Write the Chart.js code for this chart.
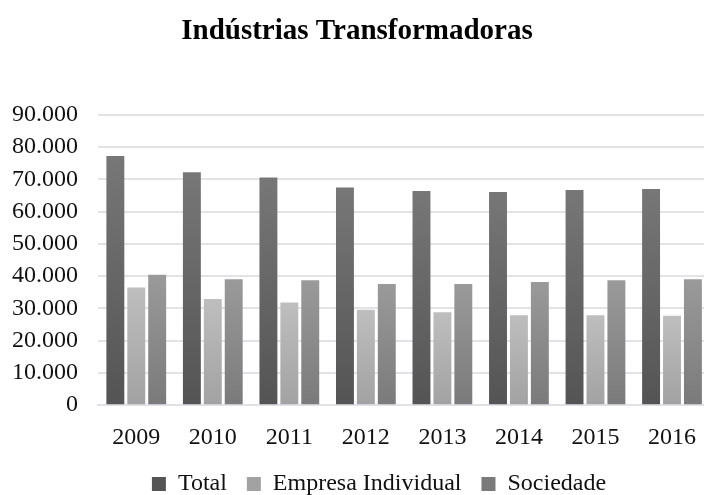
<!DOCTYPE html>
<html>
<head>
<meta charset="utf-8">
<script src="https://cdn.jsdelivr.net/npm/chart.js@4.4.1/dist/chart.umd.min.js"></script>
<style>
  html, body { margin: 0; padding: 0; background: #fff; overflow: hidden; }
  #wrap { width: 714px; height: 495px; }
</style>
</head>
<body>
<div id="wrap"><canvas id="industryChart"></canvas></div>
<script>
// data
const years = ['2009', '2010', '2011', '2012', '2013', '2014', '2015', '2016'];
const total = [77200, 72200, 70600, 67500, 66400, 66100, 66700, 67000];
const empresaIndividual = [36500, 32900, 31800, 29600, 28800, 27900, 27900, 27700];
const sociedade = [40400, 39000, 38700, 37600, 37600, 38200, 38700, 39000];

// per-bar vertical gradient (top -> bottom), flat mid colour for the legend
function barGradient(top, mid, bottom) {
  return function(context) {
    const chart = context.chart;
    const yScale = chart.scales.y;
    if (context.type !== 'data' || !yScale || !context.parsed) return mid;
    const yTop = yScale.getPixelForValue(context.parsed.y);
    const yBase = yScale.getPixelForValue(0);
    if (!isFinite(yTop) || !isFinite(yBase) || yTop === yBase) return mid;
    const g = chart.ctx.createLinearGradient(0, yTop, 0, yBase);
    g.addColorStop(0, top);
    g.addColorStop(1, bottom);
    return g;
  };
}

// nudge title and legend sideways like in the original
const blockShift = {
  id: 'blockShift',
  afterLayout(chart) {
    if (chart.legend) {
      chart.legend.left += 16;
      chart.legend.right += 16;
    }
    if (chart.titleBlock) {
      chart.titleBlock.left -= 6;
      chart.titleBlock.right -= 6;
    }
  }
};

// chart.js reserves the tick padding twice; keep it only once
function singlePadding(scale) {
  if (scale.isHorizontal()) {
    scale.height -= scale.options.ticks.padding;
  } else {
    scale.width -= scale.options.ticks.padding;
  }
}

const ctx = document.getElementById('industryChart').getContext('2d');
const serif = "'Liberation Serif', 'Times New Roman', serif";

const industryChart = new Chart(ctx, {
  type: 'bar',
  data: {
    labels: years,
    datasets: [
      {
        label: 'Total',
        data: total,
        backgroundColor: barGradient('#777777', '#656565', '#545454'),
      },
      {
        label: 'Empresa Individual',
        data: empresaIndividual,
        backgroundColor: barGradient('#bebebe', '#b0b0b0', '#a2a2a2'),
      },
      {
        label: 'Sociedade',
        data: sociedade,
        backgroundColor: barGradient('#9a9a9a', '#8a8a8a', '#7a7a7a'),
      },
    ],
  },
  plugins: [blockShift],
  options: {
    responsive: true,
    maintainAspectRatio: false,
    animation: false,
    layout: { padding: { left: 12, right: 0, top: 0, bottom: -11 } },
    datasets: {
      bar: { categoryPercentage: 0.82, barPercentage: 0.857 }
    },
    plugins: {
      title: {
        display: true,
        text: 'Indústrias Transformadoras',
        color: '#000',
        font: { family: serif, size: 29, weight: 'bold' },
        padding: { top: 14, bottom: 66 }
      },
      legend: {
        position: 'bottom',
        labels: {
          color: '#111',
          font: { family: serif, size: 24 },
          boxWidth: 14,
          boxHeight: 14,
          padding: 20
        }
      },
      tooltip: { enabled: false }
    },
    scales: {
      x: {
        afterFit: singlePadding,
        grid: { display: false, drawTicks: false },
        border: { display: true, color: '#dfe2e7', width: 2 },
        ticks: {
          color: '#111',
          padding: 18,
          font: { family: serif, size: 24 }
        }
      },
      y: {
        min: 0,
        max: 90000,
        afterFit: singlePadding,
        border: { display: false },
        grid: { color: '#e0e3e8', lineWidth: 2, drawTicks: false },
        ticks: {
          stepSize: 10000,
          autoSkip: false,
          color: '#111',
          padding: 20,
          font: { family: serif, size: 24 },
          callback: function(value) {
            return String(value).replace(/\B(?=(\d{3})+(?!\d))/g, '.');
          }
        }
      }
    }
  }
});
</script>
</body>
</html>
